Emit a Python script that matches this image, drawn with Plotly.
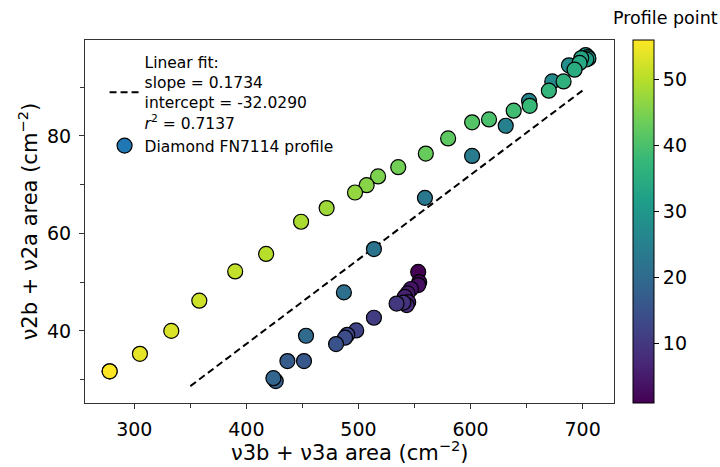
import plotly.graph_objects as go

# Profile point index (colour) and band areas along the FN7114 profile
profile_point = list(range(1, 57))
v3_area = [553.3, 554.2, 553.3, 546.8, 543.8, 541.4, 544.4, 543.0, 540.0, 534.0,
           513.8, 498.0, 490.0, 488.0, 480.0, 451.4, 436.6, 426.2, 424.1, 453.2,
           487.0, 513.8, 559.3, 601.4, 631.4, 652.2, 672.9, 687.8, 702.7, 704.6,
           705.2, 703.3, 698.8, 697.3, 692.8, 683.0, 669.9, 652.8, 638.5, 616.5,
           601.4, 580.0, 560.1, 535.5, 517.5, 507.3, 496.9, 471.6, 448.8, 417.6,
           390.0, 358.0, 333.0, 305.0, 278.0, 278.0]
v2_area = [52.1, 50.0, 49.4, 48.6, 47.7, 47.0, 45.9, 45.3, 45.8, 45.6,
           42.7, 40.1, 39.2, 38.6, 37.3, 33.8, 33.8, 29.7, 30.3, 39.0,
           47.9, 56.8, 67.3, 75.9, 82.1, 87.2, 91.2, 94.5, 96.6, 96.2,
           95.9, 95.7, 96.0, 95.0, 93.6, 91.2, 89.3, 86.2, 85.2, 83.4,
           82.8, 79.5, 76.4, 73.6, 71.7, 69.9, 68.4, 65.2, 62.4, 55.8,
           52.2, 46.2, 40.0, 35.3, 31.7, 31.7]

# Linear fit results
fit_slope = 0.1734
fit_intercept = -32.0290
fit_r2 = 0.7137
fit_x = [350, 700]
fit_y = [fit_slope * x + fit_intercept for x in fit_x]

x_ticks = [300, 400, 500, 600, 700]
y_ticks = [40, 60, 80]
cbar_ticks = [10, 20, 30, 40, 50]

FONT = "DejaVu Sans"
TICK = 19
TITLE = 21

fig = go.Figure()

fig.add_trace(go.Scatter(
    x=fit_x, y=fit_y, mode="lines",
    line=dict(color="black", width=2, dash="7px,4px"),
    name=("Linear fit:<br>slope = %.4f<br>intercept = %.4f<br><i>r</i><sup>2</sup> = %.4f"
          % (fit_slope, fit_intercept, fit_r2)),
))

fig.add_trace(go.Scatter(
    x=v3_area, y=v2_area, mode="markers", showlegend=False,
    marker=dict(
        size=15, color=profile_point, colorscale="Viridis", cmin=1, cmax=56,
        line=dict(color="black", width=1.2),
        colorbar=dict(
            thickness=21, len=1, lenmode="fraction", y=0.5, yanchor="middle",
            ypad=0, xpad=0,
            x=1.036, xanchor="left", outlinecolor="black", outlinewidth=1,
            tickvals=cbar_ticks, ticks="outside", ticklen=5, tickcolor="black",
            tickfont=dict(family=FONT, size=TICK, color="black"),
        ),
    ),
))

# legend entry for the profile markers
fig.add_trace(go.Scatter(
    x=[None], y=[None], mode="markers", name="Diamond FN7114 profile",
    marker=dict(size=15, color="#1f77b4", line=dict(color="black", width=1.2)),
))

axis_common = dict(
    showline=True, linecolor="#333", linewidth=1.2, mirror=True,
    ticks="outside", ticklen=5, tickcolor="#333", showgrid=False, zeroline=False,
    tickfont=dict(family=FONT, size=TICK, color="black"),
    ticklabelstandoff=4, automargin=False,
)

fig.update_xaxes(
    range=[256, 728], tickvals=x_ticks,
    minor=dict(dtick=50, tick0=0, ticks="outside", ticklen=4, tickcolor="#333"),
    **axis_common,
)
fig.update_yaxes(
    range=[25.2, 99.7], tickvals=y_ticks,
    minor=dict(dtick=10, tick0=0, ticks="outside", ticklen=4, tickcolor="#333"),
    **axis_common,
)

title_font = dict(family=FONT, size=TITLE, color="black")
fig.add_annotation(
    text="ν3b + ν3a area (cm<sup>−2</sup>)", xref="paper", yref="paper",
    x=0.5, y=-0.132, xanchor="center", yanchor="middle", showarrow=False,
    font=title_font, borderpad=0,
)
fig.add_annotation(
    text="ν2b + ν2a area (cm<sup>−2</sup>)", xref="paper", yref="paper",
    x=-0.108, y=0.5, xanchor="center", yanchor="middle", textangle=-90,
    showarrow=False, font=title_font, borderpad=0,
)
fig.add_annotation(
    text="Profile point", xref="paper", yref="paper", x=1.097, y=1.06,
    xanchor="center", yanchor="middle", showarrow=False,
    font=dict(family=FONT, size=17.5, color="black"),
)

fig.update_layout(
    width=720, height=467,
    margin=dict(l=85, r=106, t=40, b=64),
    paper_bgcolor="white", plot_bgcolor="white",
    showlegend=True,
    legend=dict(
        x=0.037, y=0.985, xanchor="left", yanchor="top",
        bgcolor="rgba(0,0,0,0)", borderwidth=0,
        font=dict(family=FONT, size=15.5, color="black"),
        itemwidth=30, tracegroupgap=4,
    ),
)

fig.write_html("out.html")
